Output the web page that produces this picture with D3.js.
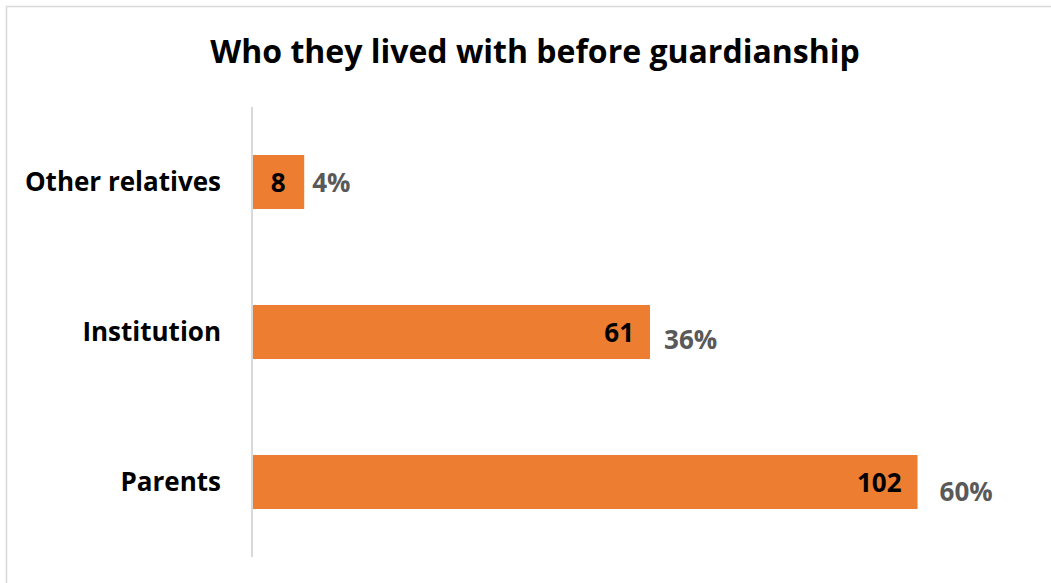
<!DOCTYPE html>
<html>
<head>
<meta charset="utf-8">
<script src="https://cdn.jsdelivr.net/npm/d3@7/dist/d3.min.js"></script>
<style>
  html, body { margin: 0; padding: 0; background: #fff; }
  svg { display: block; }
  text { font-family: "Open Sans", "Lato", sans-serif; font-weight: bold; }
</style>
</head>
<body>
<script>
// Where people lived before guardianship
const categories = ["Other relatives", "Institution", "Parents"];
const counts = [8, 61, 102];
const shares = ["4%", "36%", "60%"];
const title = "Who they lived with before guardianship";

const W = 1051, H = 583;
const FONT = "'Open Sans', Lato, sans-serif";
const svg = d3.select("body").append("svg").attr("width", W).attr("height", H);

// Outer frame
svg.append("rect")
  .attr("x", 6.5).attr("y", 6.5)
  .attr("width", W + 20).attr("height", H + 20)
  .attr("fill", "#fff").attr("stroke", "#d9d9d9").attr("stroke-width", 1.5);

svg.append("text")
  .attr("x", 535).attr("y", 63)
  .attr("text-anchor", "middle")
  .attr("font-size", 32)
  .attr("fill", "#000")
  .text(title);

const y = d3.scaleBand()
  .domain(categories)
  .range([107, 557])
  .paddingInner(0.64)
  .paddingOuter(0.32);

const x = d3.scaleLinear().domain([0, 120]).range([252, 1035]);

// Category axis
const yAxis = svg.append("g")
  .attr("transform", `translate(${x(0)},0)`)
  .call(d3.axisLeft(y).tickSize(0).tickPadding(31));
yAxis.select(".domain").attr("stroke", "#d9d9d9").attr("stroke-width", 2)
  .attr("d", `M0,107V557`);
yAxis.selectAll("text")
  .attr("font-size", 26)
  .attr("dy", "0.36em")
  .attr("fill", "#000")
  .style("font-family", FONT)
  .style("font-weight", "bold");

const rows = categories.map((c, i) => ({ c, v: counts[i], p: shares[i] }));

svg.append("g").selectAll("rect")
  .data(rows).join("rect")
  .attr("x", x(0) + 1)
  .attr("y", d => y(d.c))
  .attr("width", d => x(d.v) - x(0) - 1)
  .attr("height", y.bandwidth())
  .attr("fill", "#ed7d31");

// Counts inside the bar ends
svg.append("g").selectAll("text")
  .data(rows).join("text")
  .attr("x", d => d.v < 20 ? (x(0) + x(d.v)) / 2 : x(d.v) - 16)
  .attr("y", d => y(d.c) + y.bandwidth() / 2 + 1)
  .attr("dy", "0.36em")
  .attr("text-anchor", d => d.v < 20 ? "middle" : "end")
  .attr("font-size", 26)
  .attr("fill", "#000")
  .text(d => d.v);

// Shares beside the bars
const shareShift = [[8, 1], [14, 8], [22, 10]];
svg.append("g").selectAll("text")
  .data(rows).join("text")
  .attr("x", (d, i) => x(d.v) + shareShift[i][0])
  .attr("y", (d, i) => y(d.c) + y.bandwidth() / 2 + shareShift[i][1])
  .attr("dy", "0.36em")
  .attr("font-size", 26)
  .attr("fill", "#595959")
  .text(d => d.p);
</script>
</body>
</html>
